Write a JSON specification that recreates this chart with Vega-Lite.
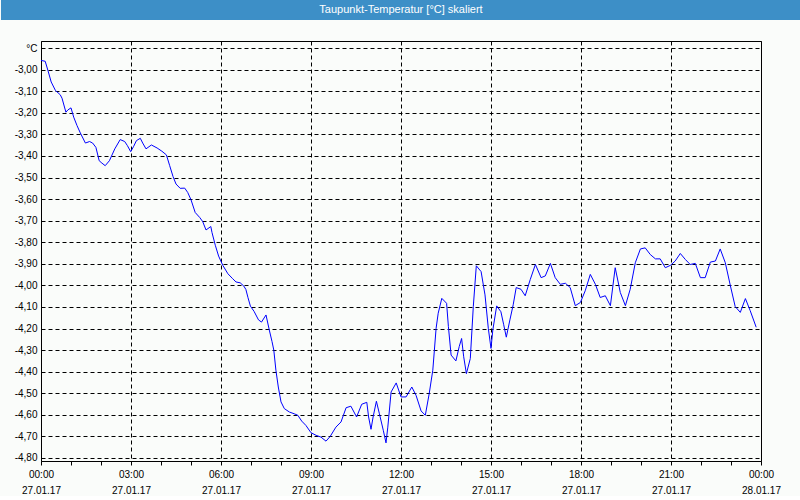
{
  "$schema": "https://vega.github.io/schema/vega-lite/v6.json",
  "background": "#fafcfa",
  "padding": 0,
  "columns": 1,
  "align": "none",
  "spacing": 20,
  "config": {"font": "Liberation Sans", "view": {"stroke": null}},
  "concat": [
    {
      "width": 720,
      "height": 20,
      "data": {"values": [{"caption": "Taupunkt-Temperatur [°C] skaliert"}]},
      "layer": [
        {
          "mark": {"type": "rect", "color": "#3d8fc7", "clip": false},
          "encoding": {
            "x": {"datum": 0, "type": "quantitative", "scale": {"domain": [0, 1], "range": [-40, 760], "nice": false, "zero": false}, "axis": null},
            "x2": {"datum": 1}
          }
        },
        {
          "mark": {"type": "text", "color": "#ffffff", "fontSize": 11, "font": "Liberation Sans", "align": "center", "baseline": "middle"},
          "encoding": {
            "x": {"datum": 0.5, "type": "quantitative"},
            "text": {"field": "caption", "type": "nominal"}
          }
        }
      ]
    },
    {
      "width": 720,
      "height": 420,
      "view": {"stroke": "black", "strokeWidth": 1},
      "data": {"values": [
        {"h": 0.00, "v": -2.957}, {"h": 0.14, "v": -2.961}, {"h": 0.23, "v": -3.003}, {"h": 0.34, "v": -3.057},
        {"h": 0.48, "v": -3.096}, {"h": 0.64, "v": -3.116}, {"h": 0.70, "v": -3.132}, {"h": 0.83, "v": -3.197},
        {"h": 0.90, "v": -3.186}, {"h": 1.00, "v": -3.177}, {"h": 1.09, "v": -3.220}, {"h": 1.20, "v": -3.259},
        {"h": 1.31, "v": -3.293}, {"h": 1.48, "v": -3.340}, {"h": 1.62, "v": -3.333}, {"h": 1.72, "v": -3.340},
        {"h": 1.83, "v": -3.360}, {"h": 1.94, "v": -3.422}, {"h": 2.03, "v": -3.433}, {"h": 2.14, "v": -3.445},
        {"h": 2.28, "v": -3.422}, {"h": 2.46, "v": -3.367}, {"h": 2.64, "v": -3.324}, {"h": 2.79, "v": -3.333},
        {"h": 2.88, "v": -3.352}, {"h": 2.99, "v": -3.380}, {"h": 3.09, "v": -3.355}, {"h": 3.18, "v": -3.329},
        {"h": 3.31, "v": -3.318}, {"h": 3.39, "v": -3.340}, {"h": 3.50, "v": -3.367}, {"h": 3.68, "v": -3.349},
        {"h": 3.87, "v": -3.363}, {"h": 4.03, "v": -3.378}, {"h": 4.18, "v": -3.395}, {"h": 4.29, "v": -3.445},
        {"h": 4.40, "v": -3.495}, {"h": 4.50, "v": -3.530}, {"h": 4.64, "v": -3.550}, {"h": 4.79, "v": -3.549},
        {"h": 4.89, "v": -3.569}, {"h": 5.00, "v": -3.603}, {"h": 5.14, "v": -3.662}, {"h": 5.29, "v": -3.685},
        {"h": 5.39, "v": -3.704}, {"h": 5.50, "v": -3.743}, {"h": 5.66, "v": -3.727}, {"h": 5.70, "v": -3.755},
        {"h": 5.81, "v": -3.814}, {"h": 5.92, "v": -3.864}, {"h": 6.06, "v": -3.907}, {"h": 6.23, "v": -3.946},
        {"h": 6.39, "v": -3.969}, {"h": 6.50, "v": -3.984}, {"h": 6.64, "v": -3.988}, {"h": 6.76, "v": -4.003},
        {"h": 6.83, "v": -4.019}, {"h": 6.90, "v": -4.057}, {"h": 6.98, "v": -4.096}, {"h": 7.10, "v": -4.120},
        {"h": 7.25, "v": -4.160}, {"h": 7.35, "v": -4.170}, {"h": 7.50, "v": -4.137}, {"h": 7.61, "v": -4.207},
        {"h": 7.70, "v": -4.260}, {"h": 7.76, "v": -4.300}, {"h": 7.83, "v": -4.393}, {"h": 7.91, "v": -4.471},
        {"h": 8.00, "v": -4.540}, {"h": 8.11, "v": -4.571}, {"h": 8.28, "v": -4.587}, {"h": 8.44, "v": -4.595},
        {"h": 8.56, "v": -4.602}, {"h": 8.69, "v": -4.629}, {"h": 8.83, "v": -4.649}, {"h": 9.00, "v": -4.683},
        {"h": 9.17, "v": -4.695}, {"h": 9.33, "v": -4.703}, {"h": 9.50, "v": -4.722}, {"h": 9.64, "v": -4.700},
        {"h": 9.83, "v": -4.657}, {"h": 10.00, "v": -4.633}, {"h": 10.17, "v": -4.567}, {"h": 10.33, "v": -4.560},
        {"h": 10.52, "v": -4.610}, {"h": 10.69, "v": -4.551}, {"h": 10.86, "v": -4.542}, {"h": 10.92, "v": -4.610},
        {"h": 11.00, "v": -4.667}, {"h": 11.07, "v": -4.610}, {"h": 11.18, "v": -4.537}, {"h": 11.28, "v": -4.595},
        {"h": 11.41, "v": -4.672}, {"h": 11.50, "v": -4.730}, {"h": 11.56, "v": -4.657}, {"h": 11.67, "v": -4.494},
        {"h": 11.84, "v": -4.452}, {"h": 12.00, "v": -4.517}, {"h": 12.17, "v": -4.517}, {"h": 12.36, "v": -4.471},
        {"h": 12.50, "v": -4.509}, {"h": 12.67, "v": -4.582}, {"h": 12.81, "v": -4.602}, {"h": 12.94, "v": -4.502},
        {"h": 13.06, "v": -4.393}, {"h": 13.17, "v": -4.199}, {"h": 13.24, "v": -4.129}, {"h": 13.36, "v": -4.060},
        {"h": 13.52, "v": -4.083}, {"h": 13.58, "v": -4.191}, {"h": 13.67, "v": -4.323}, {"h": 13.83, "v": -4.350},
        {"h": 13.94, "v": -4.284}, {"h": 14.02, "v": -4.246}, {"h": 14.09, "v": -4.331}, {"h": 14.18, "v": -4.409},
        {"h": 14.31, "v": -4.339}, {"h": 14.41, "v": -4.098}, {"h": 14.51, "v": -3.909}, {"h": 14.67, "v": -3.936},
        {"h": 14.80, "v": -4.044}, {"h": 14.91, "v": -4.199}, {"h": 15.00, "v": -4.292}, {"h": 15.06, "v": -4.207},
        {"h": 15.19, "v": -4.095}, {"h": 15.33, "v": -4.122}, {"h": 15.42, "v": -4.180}, {"h": 15.51, "v": -4.240},
        {"h": 15.63, "v": -4.160}, {"h": 15.74, "v": -4.090}, {"h": 15.84, "v": -4.010}, {"h": 16.00, "v": -4.018},
        {"h": 16.14, "v": -4.048}, {"h": 16.31, "v": -3.972}, {"h": 16.48, "v": -3.903}, {"h": 16.67, "v": -3.964},
        {"h": 16.81, "v": -3.956}, {"h": 16.98, "v": -3.898}, {"h": 17.14, "v": -3.964}, {"h": 17.31, "v": -3.995},
        {"h": 17.48, "v": -3.990}, {"h": 17.64, "v": -4.010}, {"h": 17.81, "v": -4.094}, {"h": 17.98, "v": -4.079},
        {"h": 18.14, "v": -4.025}, {"h": 18.31, "v": -3.949}, {"h": 18.48, "v": -3.995}, {"h": 18.64, "v": -4.056},
        {"h": 18.81, "v": -4.048}, {"h": 18.98, "v": -4.094}, {"h": 19.14, "v": -3.918}, {"h": 19.31, "v": -4.033},
        {"h": 19.48, "v": -4.094}, {"h": 19.64, "v": -4.018}, {"h": 19.81, "v": -3.895}, {"h": 19.98, "v": -3.831},
        {"h": 20.14, "v": -3.826}, {"h": 20.31, "v": -3.857}, {"h": 20.48, "v": -3.877}, {"h": 20.64, "v": -3.877},
        {"h": 20.81, "v": -3.918}, {"h": 20.98, "v": -3.907}, {"h": 21.14, "v": -3.887}, {"h": 21.31, "v": -3.852},
        {"h": 21.48, "v": -3.880}, {"h": 21.64, "v": -3.903}, {"h": 21.81, "v": -3.898}, {"h": 21.98, "v": -3.964},
        {"h": 22.14, "v": -3.964}, {"h": 22.31, "v": -3.892}, {"h": 22.48, "v": -3.887}, {"h": 22.64, "v": -3.831},
        {"h": 22.81, "v": -3.895}, {"h": 22.98, "v": -4.002}, {"h": 23.14, "v": -4.098}, {"h": 23.31, "v": -4.125},
        {"h": 23.48, "v": -4.061}, {"h": 23.64, "v": -4.117}, {"h": 23.84, "v": -4.194}
      ]},
      "mark": {"type": "line", "color": "#0000ff", "strokeWidth": 1},
      "encoding": {
        "x": {
          "field": "h",
          "type": "quantitative",
          "scale": {"domain": [0, 24], "nice": false, "zero": false},
          "axis": {
            "title": null,
            "values": [0, 1, 2, 3, 4, 5, 6, 7, 8, 9, 10, 11, 12, 13, 14, 15, 16, 17, 18, 19, 20, 21, 22, 23, 24],
            "labelExpr": "datum.value % 3 == 0 ? [(datum.value % 24 < 10 ? '0' : '') + (datum.value % 24) + ':00', datum.value < 24 ? '27.01.17' : '28.01.17'] : ''",
            "labelOverlap": false,
            "labelFlush": false,
            "labelFont": "Liberation Sans",
            "labelFontSize": 10,
            "labelColor": "#000000",
            "labelLineHeight": 16,
            "labelBaseline": "top",
            "labelPadding": 4,
            "tickSize": 4,
            "tickColor": "#000000",
            "domainColor": "#000000",
            "grid": true,
            "gridColor": "#000000",
            "gridDash": [4, 3],
            "gridOpacity": {"condition": {"test": "datum.value % 3 == 0", "value": 1}, "value": 0}
          }
        },
        "y": {
          "field": "v",
          "type": "quantitative",
          "scale": {"domain": [-4.814, -2.867], "nice": false, "zero": false},
          "axis": {
            "title": null,
            "values": [-2.9, -3.0, -3.1, -3.2, -3.3, -3.4, -3.5, -3.6, -3.7, -3.8, -3.9, -4.0, -4.1, -4.2, -4.3, -4.4, -4.5, -4.6, -4.7, -4.8],
            "labelExpr": "datum.value > -2.95 ? '°C' : '-' + replace(format(-datum.value, '.2f'), '.', ',')",
            "labelFont": "Liberation Sans",
            "labelFontSize": 10,
            "labelColor": "#000000",
            "labelPadding": 4,
            "ticks": false,
            "domain": false,
            "grid": true,
            "gridColor": "#000000",
            "gridDash": [4, 3],
            "gridOpacity": 1,
            "minExtent": 40,
            "maxExtent": 40
          }
        }
      }
    }
  ]
}
